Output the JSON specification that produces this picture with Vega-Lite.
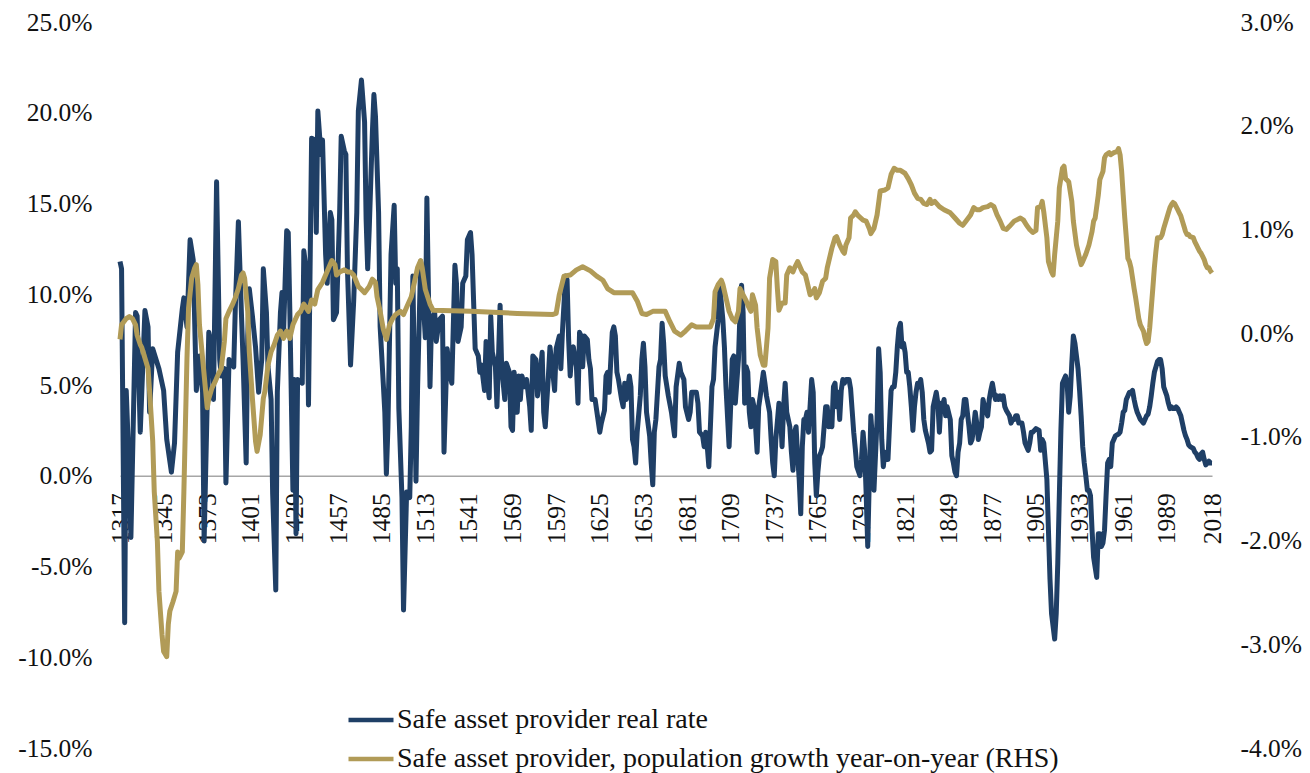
{
  "$schema": "https://vega.github.io/schema/vega-lite/v6.json",
  "autosize": "none",
  "width": 1092,
  "height": 726,
  "padding": {"left": 120, "top": 22, "right": 98, "bottom": 25},
  "background": "white",
  "config": {
    "view": {"stroke": null},
    "font": "Liberation Serif",
    "axis": {"labelFont": "Liberation Serif", "labelFontSize": 25.5, "labelColor": "#111111", "grid": false, "ticks": false, "domain": false, "title": null},
    "legend": {"labelFont": "Liberation Serif", "labelFontSize": 28, "labelColor": "#111111"}
  },
  "datasets": {
    "rate": [
      {"year":1317,"v":11.8},{"year":1318,"v":11.4},{"year":1320,"v":-8.1},{"year":1321,"v":4.7},{"year":1323,"v":0.0},{"year":1324,"v":-3.4},{"year":1327,"v":9.0},{"year":1328,"v":8.8},{"year":1330,"v":2.4},{"year":1333,"v":9.1},{"year":1335,"v":8.2},{"year":1336,"v":3.5},{"year":1338,"v":7.0},{"year":1342,"v":5.9},{"year":1345,"v":4.7},{"year":1347,"v":2.0},{"year":1350,"v":0.2},{"year":1352,"v":1.8},{"year":1354,"v":6.8},{"year":1357,"v":9.2},{"year":1358,"v":9.8},{"year":1360,"v":8.2},{"year":1362,"v":13.0},{"year":1364,"v":11.9},{"year":1366,"v":4.7},{"year":1368,"v":6.6},{"year":1370,"v":4.6},{"year":1371,"v":-3.6},{"year":1374,"v":7.9},{"year":1376,"v":7.1},{"year":1377,"v":4.2},{"year":1379,"v":16.2},{"year":1381,"v":6.4},{"year":1382,"v":5.5},{"year":1384,"v":5.9},{"year":1385,"v":-0.4},{"year":1387,"v":6.4},{"year":1390,"v":6.0},{"year":1391,"v":9.2},{"year":1393,"v":14.0},{"year":1395,"v":8.8},{"year":1396,"v":6.4},{"year":1398,"v":0.7},{"year":1399,"v":7.7},{"year":1400,"v":10.3},{"year":1402,"v":8.8},{"year":1404,"v":7.1},{"year":1406,"v":4.6},{"year":1408,"v":6.4},{"year":1409,"v":11.4},{"year":1411,"v":9.0},{"year":1412,"v":6.0},{"year":1414,"v":4.2},{"year":1415,"v":-1.0},{"year":1417,"v":-6.3},{"year":1418,"v":4.6},{"year":1420,"v":9.0},{"year":1421,"v":10.1},{"year":1422,"v":7.9},{"year":1424,"v":13.5},{"year":1425,"v":13.4},{"year":1426,"v":9.2},{"year":1428,"v":-0.8},{"year":1429,"v":5.3},{"year":1430,"v":-3.2},{"year":1431,"v":5.3},{"year":1434,"v":5.1},{"year":1435,"v":12.4},{"year":1437,"v":11.0},{"year":1438,"v":3.9},{"year":1440,"v":18.6},{"year":1442,"v":18.5},{"year":1443,"v":13.4},{"year":1444,"v":20.1},{"year":1446,"v":17.7},{"year":1447,"v":18.5},{"year":1449,"v":12.2},{"year":1450,"v":10.6},{"year":1452,"v":14.5},{"year":1453,"v":14.1},{"year":1454,"v":8.6},{"year":1456,"v":9.0},{"year":1458,"v":14.5},{"year":1459,"v":18.7},{"year":1461,"v":17.9},{"year":1462,"v":17.7},{"year":1463,"v":11.4},{"year":1465,"v":6.1},{"year":1467,"v":9.6},{"year":1469,"v":14.5},{"year":1470,"v":20.1},{"year":1472,"v":21.8},{"year":1474,"v":19.5},{"year":1475,"v":14.1},{"year":1476,"v":11.4},{"year":1477,"v":13.6},{"year":1479,"v":18.9},{"year":1480,"v":21.0},{"year":1481,"v":19.8},{"year":1483,"v":14.5},{"year":1484,"v":8.2},{"year":1486,"v":5.1},{"year":1487,"v":3.5},{"year":1488,"v":0.1},{"year":1489,"v":2.7},{"year":1491,"v":12.2},{"year":1493,"v":14.9},{"year":1494,"v":10.6},{"year":1495,"v":11.4},{"year":1496,"v":3.7},{"year":1498,"v":-1.2},{"year":1499,"v":-7.4},{"year":1501,"v":-0.9},{"year":1503,"v":-1.2},{"year":1504,"v":2.7},{"year":1505,"v":11.0},{"year":1507,"v":-0.3},{"year":1508,"v":4.7},{"year":1510,"v":11.8},{"year":1511,"v":10.6},{"year":1513,"v":7.6},{"year":1514,"v":15.3},{"year":1516,"v":4.9},{"year":1517,"v":8.6},{"year":1519,"v":9.0},{"year":1520,"v":7.4},{"year":1522,"v":8.6},{"year":1524,"v":8.8},{"year":1525,"v":1.3},{"year":1527,"v":7.0},{"year":1529,"v":5.5},{"year":1530,"v":5.1},{"year":1532,"v":11.6},{"year":1533,"v":10.6},{"year":1534,"v":7.4},{"year":1536,"v":8.2},{"year":1537,"v":10.6},{"year":1539,"v":11.0},{"year":1540,"v":13.0},{"year":1542,"v":13.4},{"year":1543,"v":12.2},{"year":1545,"v":7.0},{"year":1547,"v":6.6},{"year":1548,"v":5.7},{"year":1549,"v":6.1},{"year":1551,"v":4.7},{"year":1552,"v":7.4},{"year":1553,"v":5.1},{"year":1554,"v":4.3},{"year":1555,"v":8.8},{"year":1556,"v":6.8},{"year":1558,"v":6.0},{"year":1559,"v":3.8},{"year":1561,"v":9.4},{"year":1562,"v":6.0},{"year":1564,"v":4.2},{"year":1565,"v":6.2},{"year":1567,"v":5.7},{"year":1568,"v":2.7},{"year":1569,"v":2.5},{"year":1570,"v":5.7},{"year":1572,"v":3.5},{"year":1573,"v":5.5},{"year":1574,"v":4.2},{"year":1575,"v":5.5},{"year":1577,"v":4.9},{"year":1578,"v":5.3},{"year":1580,"v":3.8},{"year":1581,"v":2.5},{"year":1582,"v":6.6},{"year":1584,"v":6.4},{"year":1585,"v":4.4},{"year":1587,"v":5.9},{"year":1588,"v":6.8},{"year":1589,"v":3.5},{"year":1590,"v":2.7},{"year":1592,"v":5.5},{"year":1593,"v":7.1},{"year":1594,"v":6.4},{"year":1596,"v":4.7},{"year":1597,"v":7.0},{"year":1599,"v":7.7},{"year":1600,"v":5.9},{"year":1601,"v":7.9},{"year":1603,"v":11.0},{"year":1604,"v":10.8},{"year":1605,"v":7.5},{"year":1606,"v":5.5},{"year":1607,"v":6.8},{"year":1608,"v":7.1},{"year":1610,"v":6.0},{"year":1611,"v":4.0},{"year":1612,"v":7.9},{"year":1613,"v":7.7},{"year":1614,"v":6.0},{"year":1615,"v":7.7},{"year":1617,"v":7.5},{"year":1618,"v":6.4},{"year":1619,"v":5.9},{"year":1620,"v":4.2},{"year":1622,"v":4.2},{"year":1623,"v":3.6},{"year":1625,"v":2.4},{"year":1626,"v":2.9},{"year":1628,"v":3.6},{"year":1629,"v":5.5},{"year":1630,"v":5.7},{"year":1631,"v":4.6},{"year":1633,"v":7.9},{"year":1634,"v":8.2},{"year":1635,"v":7.7},{"year":1636,"v":5.7},{"year":1637,"v":5.3},{"year":1639,"v":4.2},{"year":1640,"v":3.8},{"year":1641,"v":5.1},{"year":1642,"v":4.2},{"year":1644,"v":5.5},{"year":1645,"v":4.9},{"year":1646,"v":2.0},{"year":1647,"v":1.6},{"year":1648,"v":0.7},{"year":1649,"v":2.4},{"year":1651,"v":4.4},{"year":1652,"v":6.4},{"year":1653,"v":7.3},{"year":1654,"v":6.0},{"year":1655,"v":3.5},{"year":1657,"v":2.2},{"year":1658,"v":0.7},{"year":1659,"v":-0.5},{"year":1660,"v":2.4},{"year":1661,"v":3.1},{"year":1663,"v":6.0},{"year":1664,"v":6.4},{"year":1665,"v":8.4},{"year":1666,"v":7.3},{"year":1667,"v":5.5},{"year":1669,"v":4.4},{"year":1671,"v":3.5},{"year":1673,"v":2.2},{"year":1674,"v":4.9},{"year":1676,"v":6.2},{"year":1677,"v":5.7},{"year":1679,"v":5.3},{"year":1680,"v":3.8},{"year":1682,"v":3.1},{"year":1683,"v":3.5},{"year":1684,"v":4.6},{"year":1685,"v":4.6},{"year":1687,"v":4.6},{"year":1688,"v":4.0},{"year":1689,"v":2.4},{"year":1691,"v":2.2},{"year":1692,"v":1.6},{"year":1693,"v":2.4},{"year":1694,"v":1.6},{"year":1695,"v":0.5},{"year":1697,"v":4.9},{"year":1698,"v":5.3},{"year":1699,"v":7.1},{"year":1701,"v":8.6},{"year":1702,"v":10.5},{"year":1704,"v":8.6},{"year":1705,"v":7.1},{"year":1706,"v":4.9},{"year":1708,"v":1.6},{"year":1709,"v":3.8},{"year":1710,"v":6.4},{"year":1711,"v":6.6},{"year":1712,"v":4.0},{"year":1714,"v":6.4},{"year":1715,"v":9.0},{"year":1716,"v":10.5},{"year":1717,"v":9.0},{"year":1718,"v":4.0},{"year":1719,"v":6.0},{"year":1720,"v":5.7},{"year":1721,"v":3.5},{"year":1722,"v":2.7},{"year":1723,"v":4.2},{"year":1724,"v":3.8},{"year":1725,"v":2.7},{"year":1726,"v":1.3},{"year":1727,"v":3.8},{"year":1728,"v":4.4},{"year":1730,"v":5.7},{"year":1731,"v":5.1},{"year":1732,"v":4.4},{"year":1734,"v":3.5},{"year":1735,"v":2.0},{"year":1736,"v":0.7},{"year":1737,"v":0.0},{"year":1738,"v":2.0},{"year":1740,"v":4.0},{"year":1741,"v":3.5},{"year":1742,"v":1.6},{"year":1743,"v":3.8},{"year":1744,"v":5.1},{"year":1745,"v":3.5},{"year":1747,"v":2.7},{"year":1748,"v":1.3},{"year":1749,"v":0.3},{"year":1750,"v":2.4},{"year":1751,"v":2.7},{"year":1752,"v":1.1},{"year":1753,"v":-0.2},{"year":1754,"v":-2.1},{"year":1755,"v":1.6},{"year":1756,"v":3.1},{"year":1757,"v":3.1},{"year":1758,"v":3.5},{"year":1759,"v":2.4},{"year":1761,"v":5.3},{"year":1762,"v":4.6},{"year":1763,"v":0.7},{"year":1764,"v":-1.1},{"year":1765,"v":0.2},{"year":1766,"v":1.1},{"year":1767,"v":1.3},{"year":1768,"v":1.6},{"year":1770,"v":3.8},{"year":1771,"v":3.8},{"year":1772,"v":2.7},{"year":1773,"v":3.1},{"year":1774,"v":2.7},{"year":1775,"v":4.9},{"year":1776,"v":5.1},{"year":1777,"v":3.8},{"year":1778,"v":4.6},{"year":1779,"v":3.1},{"year":1780,"v":4.7},{"year":1781,"v":5.3},{"year":1782,"v":5.1},{"year":1783,"v":5.3},{"year":1784,"v":5.3},{"year":1785,"v":5.3},{"year":1786,"v":4.8},{"year":1787,"v":3.6},{"year":1788,"v":2.4},{"year":1789,"v":1.5},{"year":1790,"v":0.5},{"year":1792,"v":0.0},{"year":1793,"v":0.9},{"year":1794,"v":2.4},{"year":1795,"v":1.4},{"year":1796,"v":-1.0},{"year":1797,"v":-3.9},{"year":1798,"v":-0.2},{"year":1799,"v":3.3},{"year":1800,"v":2.0},{"year":1801,"v":-0.8},{"year":1803,"v":3.1},{"year":1804,"v":7.0},{"year":1805,"v":5.7},{"year":1806,"v":2.0},{"year":1807,"v":0.5},{"year":1808,"v":1.3},{"year":1809,"v":0.9},{"year":1810,"v":0.9},{"year":1812,"v":4.7},{"year":1813,"v":4.9},{"year":1814,"v":4.9},{"year":1815,"v":5.7},{"year":1816,"v":7.1},{"year":1817,"v":8.1},{"year":1818,"v":8.4},{"year":1819,"v":7.1},{"year":1820,"v":7.3},{"year":1821,"v":6.8},{"year":1822,"v":5.7},{"year":1823,"v":5.7},{"year":1824,"v":4.9},{"year":1825,"v":3.8},{"year":1826,"v":2.5},{"year":1827,"v":3.8},{"year":1828,"v":4.6},{"year":1829,"v":5.1},{"year":1830,"v":4.9},{"year":1831,"v":5.3},{"year":1832,"v":4.6},{"year":1833,"v":3.1},{"year":1834,"v":2.5},{"year":1836,"v":1.8},{"year":1837,"v":1.3},{"year":1838,"v":1.4},{"year":1839,"v":3.8},{"year":1840,"v":4.2},{"year":1841,"v":4.6},{"year":1842,"v":4.0},{"year":1843,"v":2.4},{"year":1844,"v":4.0},{"year":1845,"v":3.8},{"year":1846,"v":4.2},{"year":1847,"v":3.3},{"year":1848,"v":3.8},{"year":1850,"v":3.1},{"year":1851,"v":1.1},{"year":1852,"v":0.7},{"year":1853,"v":0.2},{"year":1854,"v":0.0},{"year":1855,"v":1.3},{"year":1856,"v":1.8},{"year":1857,"v":3.1},{"year":1858,"v":3.3},{"year":1859,"v":4.2},{"year":1860,"v":4.2},{"year":1862,"v":2.7},{"year":1863,"v":1.8},{"year":1864,"v":2.0},{"year":1865,"v":2.7},{"year":1866,"v":3.5},{"year":1867,"v":2.9},{"year":1868,"v":2.0},{"year":1869,"v":2.4},{"year":1870,"v":2.7},{"year":1871,"v":4.2},{"year":1872,"v":3.8},{"year":1874,"v":3.3},{"year":1875,"v":4.2},{"year":1876,"v":4.7},{"year":1877,"v":5.1},{"year":1878,"v":4.6},{"year":1879,"v":4.2},{"year":1880,"v":4.4},{"year":1881,"v":4.2},{"year":1882,"v":4.4},{"year":1883,"v":4.2},{"year":1884,"v":4.4},{"year":1885,"v":3.8},{"year":1886,"v":3.6},{"year":1888,"v":3.3},{"year":1889,"v":2.9},{"year":1890,"v":3.1},{"year":1891,"v":3.1},{"year":1892,"v":3.3},{"year":1893,"v":3.3},{"year":1894,"v":2.9},{"year":1895,"v":2.9},{"year":1896,"v":2.9},{"year":1897,"v":2.4},{"year":1898,"v":1.8},{"year":1899,"v":1.6},{"year":1900,"v":1.4},{"year":1901,"v":1.8},{"year":1902,"v":2.4},{"year":1903,"v":2.4},{"year":1905,"v":2.6},{"year":1907,"v":2.5},{"year":1908,"v":1.4},{"year":1909,"v":2.0},{"year":1910,"v":1.8},{"year":1912,"v":-0.2},{"year":1913,"v":-3.0},{"year":1914,"v":-5.7},{"year":1915,"v":-7.6},{"year":1917,"v":-9.0},{"year":1918,"v":-7.6},{"year":1919,"v":-4.8},{"year":1920,"v":-1.1},{"year":1921,"v":2.5},{"year":1922,"v":5.1},{"year":1924,"v":5.5},{"year":1925,"v":5.1},{"year":1926,"v":3.5},{"year":1927,"v":4.4},{"year":1928,"v":6.2},{"year":1929,"v":7.7},{"year":1930,"v":7.3},{"year":1931,"v":6.6},{"year":1932,"v":5.9},{"year":1933,"v":4.7},{"year":1934,"v":3.3},{"year":1935,"v":1.6},{"year":1936,"v":0.7},{"year":1937,"v":0.0},{"year":1938,"v":-0.8},{"year":1939,"v":-0.8},{"year":1940,"v":-1.1},{"year":1941,"v":-3.0},{"year":1942,"v":-4.5},{"year":1944,"v":-5.6},{"year":1945,"v":-3.2},{"year":1946,"v":-3.2},{"year":1947,"v":-3.9},{"year":1948,"v":-3.7},{"year":1949,"v":-3.0},{"year":1950,"v":-1.1},{"year":1951,"v":0.7},{"year":1952,"v":0.9},{"year":1953,"v":0.5},{"year":1954,"v":1.8},{"year":1955,"v":2.0},{"year":1956,"v":2.2},{"year":1958,"v":2.3},{"year":1959,"v":2.4},{"year":1960,"v":2.9},{"year":1961,"v":3.5},{"year":1962,"v":3.6},{"year":1963,"v":4.2},{"year":1964,"v":4.4},{"year":1965,"v":4.6},{"year":1966,"v":4.6},{"year":1967,"v":4.7},{"year":1968,"v":4.2},{"year":1969,"v":3.8},{"year":1970,"v":3.5},{"year":1971,"v":3.3},{"year":1972,"v":3.1},{"year":1974,"v":2.9},{"year":1975,"v":3.1},{"year":1976,"v":3.3},{"year":1977,"v":3.4},{"year":1978,"v":3.8},{"year":1979,"v":4.4},{"year":1980,"v":5.1},{"year":1981,"v":5.7},{"year":1982,"v":6.0},{"year":1983,"v":6.3},{"year":1984,"v":6.4},{"year":1985,"v":6.4},{"year":1986,"v":5.9},{"year":1987,"v":4.9},{"year":1989,"v":4.4},{"year":1990,"v":4.0},{"year":1991,"v":3.7},{"year":1992,"v":3.8},{"year":1993,"v":3.7},{"year":1994,"v":3.7},{"year":1995,"v":3.8},{"year":1996,"v":3.7},{"year":1997,"v":3.5},{"year":1998,"v":3.3},{"year":1999,"v":2.9},{"year":2000,"v":2.5},{"year":2001,"v":2.2},{"year":2002,"v":2.0},{"year":2003,"v":1.7},{"year":2004,"v":1.6},{"year":2006,"v":1.5},{"year":2007,"v":1.3},{"year":2008,"v":1.2},{"year":2009,"v":1.0},{"year":2010,"v":0.9},{"year":2011,"v":1.2},{"year":2012,"v":1.3},{"year":2013,"v":0.9},{"year":2014,"v":0.6},{"year":2015,"v":0.7},{"year":2016,"v":0.8},{"year":2017,"v":0.7},{"year":2018,"v":0.7}
    ],
    "pop": [
      {"year":1317,"v":-0.06},{"year":1318,"v":0.08},{"year":1319,"v":0.10},{"year":1321,"v":0.14},{"year":1323,"v":0.16},{"year":1325,"v":0.14},{"year":1327,"v":0.08},{"year":1328,"v":-0.02},{"year":1330,"v":-0.11},{"year":1331,"v":-0.14},{"year":1333,"v":-0.24},{"year":1335,"v":-0.34},{"year":1336,"v":-0.56},{"year":1338,"v":-1.04},{"year":1339,"v":-1.53},{"year":1341,"v":-2.01},{"year":1342,"v":-2.49},{"year":1344,"v":-2.91},{"year":1345,"v":-3.07},{"year":1347,"v":-3.12},{"year":1348,"v":-2.81},{"year":1349,"v":-2.68},{"year":1351,"v":-2.59},{"year":1353,"v":-2.49},{"year":1354,"v":-2.11},{"year":1355,"v":-2.17},{"year":1357,"v":-2.11},{"year":1358,"v":-1.53},{"year":1359,"v":-0.88},{"year":1360,"v":-0.24},{"year":1361,"v":0.24},{"year":1363,"v":0.53},{"year":1365,"v":0.63},{"year":1366,"v":0.66},{"year":1367,"v":0.47},{"year":1368,"v":0.08},{"year":1370,"v":-0.24},{"year":1372,"v":-0.56},{"year":1373,"v":-0.72},{"year":1374,"v":-0.63},{"year":1376,"v":-0.53},{"year":1378,"v":-0.47},{"year":1380,"v":-0.40},{"year":1382,"v":-0.34},{"year":1384,"v":-0.08},{"year":1385,"v":0.14},{"year":1387,"v":0.21},{"year":1389,"v":0.27},{"year":1391,"v":0.34},{"year":1393,"v":0.43},{"year":1395,"v":0.56},{"year":1396,"v":0.58},{"year":1397,"v":0.53},{"year":1399,"v":0.21},{"year":1400,"v":-0.18},{"year":1402,"v":-0.63},{"year":1404,"v":-1.04},{"year":1405,"v":-1.14},{"year":1407,"v":-0.98},{"year":1409,"v":-0.63},{"year":1410,"v":-0.56},{"year":1412,"v":-0.31},{"year":1414,"v":-0.18},{"year":1416,"v":-0.11},{"year":1418,"v":-0.02},{"year":1420,"v":0.02},{"year":1422,"v":-0.05},{"year":1424,"v":0.02},{"year":1426,"v":-0.05},{"year":1428,"v":0.08},{"year":1431,"v":0.18},{"year":1433,"v":0.21},{"year":1435,"v":0.28},{"year":1438,"v":0.21},{"year":1440,"v":0.32},{"year":1442,"v":0.28},{"year":1444,"v":0.42},{"year":1447,"v":0.49},{"year":1449,"v":0.56},{"year":1451,"v":0.63},{"year":1453,"v":0.70},{"year":1455,"v":0.66},{"year":1456,"v":0.56},{"year":1458,"v":0.59},{"year":1461,"v":0.61},{"year":1463,"v":0.59},{"year":1465,"v":0.59},{"year":1467,"v":0.56},{"year":1470,"v":0.45},{"year":1472,"v":0.42},{"year":1474,"v":0.39},{"year":1477,"v":0.45},{"year":1479,"v":0.52},{"year":1481,"v":0.49},{"year":1482,"v":0.35},{"year":1484,"v":0.21},{"year":1486,"v":0.04},{"year":1488,"v":-0.06},{"year":1490,"v":0.08},{"year":1492,"v":0.14},{"year":1494,"v":0.18},{"year":1497,"v":0.21},{"year":1499,"v":0.18},{"year":1501,"v":0.25},{"year":1504,"v":0.35},{"year":1506,"v":0.49},{"year":1508,"v":0.63},{"year":1510,"v":0.70},{"year":1511,"v":0.63},{"year":1513,"v":0.42},{"year":1516,"v":0.28},{"year":1518,"v":0.22},{"year":1542,"v":0.21},{"year":1572,"v":0.19},{"year":1595,"v":0.18},{"year":1597,"v":0.19},{"year":1599,"v":0.37},{"year":1602,"v":0.55},{"year":1606,"v":0.56},{"year":1610,"v":0.61},{"year":1614,"v":0.64},{"year":1619,"v":0.60},{"year":1623,"v":0.55},{"year":1627,"v":0.51},{"year":1630,"v":0.43},{"year":1634,"v":0.39},{"year":1646,"v":0.39},{"year":1649,"v":0.31},{"year":1652,"v":0.19},{"year":1655,"v":0.18},{"year":1659,"v":0.21},{"year":1667,"v":0.21},{"year":1670,"v":0.11},{"year":1673,"v":0.02},{"year":1677,"v":-0.02},{"year":1680,"v":0.02},{"year":1684,"v":0.08},{"year":1687,"v":0.06},{"year":1696,"v":0.06},{"year":1698,"v":0.14},{"year":1699,"v":0.40},{"year":1701,"v":0.47},{"year":1703,"v":0.51},{"year":1704,"v":0.47},{"year":1706,"v":0.34},{"year":1708,"v":0.21},{"year":1710,"v":0.14},{"year":1712,"v":0.11},{"year":1714,"v":0.21},{"year":1715,"v":0.43},{"year":1717,"v":0.37},{"year":1719,"v":0.31},{"year":1720,"v":0.27},{"year":1722,"v":0.21},{"year":1723,"v":0.37},{"year":1725,"v":0.27},{"year":1726,"v":0.05},{"year":1728,"v":-0.21},{"year":1730,"v":-0.31},{"year":1731,"v":-0.31},{"year":1733,"v":0.05},{"year":1734,"v":0.53},{"year":1736,"v":0.71},{"year":1738,"v":0.69},{"year":1739,"v":0.43},{"year":1740,"v":0.22},{"year":1742,"v":0.29},{"year":1744,"v":0.29},{"year":1745,"v":0.56},{"year":1747,"v":0.63},{"year":1749,"v":0.59},{"year":1750,"v":0.63},{"year":1752,"v":0.69},{"year":1755,"v":0.59},{"year":1757,"v":0.56},{"year":1758,"v":0.50},{"year":1760,"v":0.37},{"year":1762,"v":0.40},{"year":1763,"v":0.43},{"year":1764,"v":0.34},{"year":1766,"v":0.39},{"year":1768,"v":0.50},{"year":1770,"v":0.53},{"year":1771,"v":0.63},{"year":1774,"v":0.82},{"year":1776,"v":0.92},{"year":1777,"v":0.93},{"year":1779,"v":0.85},{"year":1781,"v":0.79},{"year":1782,"v":0.77},{"year":1783,"v":0.85},{"year":1785,"v":0.92},{"year":1786,"v":1.11},{"year":1788,"v":1.14},{"year":1789,"v":1.17},{"year":1791,"v":1.13},{"year":1794,"v":1.09},{"year":1796,"v":1.08},{"year":1798,"v":1.01},{"year":1799,"v":0.96},{"year":1801,"v":1.01},{"year":1803,"v":1.14},{"year":1805,"v":1.37},{"year":1808,"v":1.38},{"year":1810,"v":1.40},{"year":1812,"v":1.53},{"year":1814,"v":1.59},{"year":1816,"v":1.57},{"year":1818,"v":1.57},{"year":1821,"v":1.54},{"year":1823,"v":1.49},{"year":1825,"v":1.43},{"year":1827,"v":1.35},{"year":1829,"v":1.30},{"year":1831,"v":1.29},{"year":1833,"v":1.25},{"year":1835,"v":1.24},{"year":1837,"v":1.29},{"year":1838,"v":1.25},{"year":1840,"v":1.27},{"year":1843,"v":1.22},{"year":1846,"v":1.19},{"year":1850,"v":1.16},{"year":1853,"v":1.11},{"year":1856,"v":1.06},{"year":1858,"v":1.04},{"year":1860,"v":1.08},{"year":1863,"v":1.14},{"year":1865,"v":1.21},{"year":1867,"v":1.19},{"year":1869,"v":1.19},{"year":1871,"v":1.21},{"year":1874,"v":1.22},{"year":1876,"v":1.24},{"year":1878,"v":1.22},{"year":1880,"v":1.14},{"year":1882,"v":1.08},{"year":1884,"v":1.01},{"year":1886,"v":1.00},{"year":1888,"v":1.03},{"year":1891,"v":1.08},{"year":1895,"v":1.11},{"year":1897,"v":1.09},{"year":1899,"v":1.04},{"year":1901,"v":1.00},{"year":1903,"v":0.97},{"year":1905,"v":0.99},{"year":1906,"v":1.21},{"year":1908,"v":1.22},{"year":1909,"v":1.27},{"year":1910,"v":1.17},{"year":1912,"v":0.92},{"year":1913,"v":0.69},{"year":1915,"v":0.59},{"year":1916,"v":0.56},{"year":1917,"v":0.76},{"year":1919,"v":1.08},{"year":1920,"v":1.40},{"year":1922,"v":1.59},{"year":1923,"v":1.61},{"year":1924,"v":1.49},{"year":1926,"v":1.46},{"year":1928,"v":1.27},{"year":1929,"v":1.08},{"year":1931,"v":0.85},{"year":1933,"v":0.72},{"year":1934,"v":0.66},{"year":1935,"v":0.69},{"year":1937,"v":0.76},{"year":1939,"v":0.85},{"year":1941,"v":0.98},{"year":1942,"v":1.08},{"year":1943,"v":1.11},{"year":1945,"v":1.33},{"year":1946,"v":1.48},{"year":1948,"v":1.56},{"year":1949,"v":1.69},{"year":1950,"v":1.72},{"year":1952,"v":1.74},{"year":1953,"v":1.72},{"year":1955,"v":1.74},{"year":1957,"v":1.75},{"year":1958,"v":1.78},{"year":1959,"v":1.72},{"year":1960,"v":1.56},{"year":1961,"v":1.33},{"year":1962,"v":1.11},{"year":1963,"v":0.92},{"year":1964,"v":0.72},{"year":1965,"v":0.69},{"year":1966,"v":0.63},{"year":1967,"v":0.53},{"year":1968,"v":0.43},{"year":1969,"v":0.34},{"year":1970,"v":0.24},{"year":1971,"v":0.14},{"year":1972,"v":0.08},{"year":1974,"v":0.02},{"year":1975,"v":-0.05},{"year":1976,"v":-0.10},{"year":1977,"v":-0.08},{"year":1978,"v":0.05},{"year":1979,"v":0.24},{"year":1980,"v":0.43},{"year":1981,"v":0.63},{"year":1982,"v":0.79},{"year":1983,"v":0.92},{"year":1985,"v":0.92},{"year":1986,"v":0.95},{"year":1987,"v":1.01},{"year":1989,"v":1.11},{"year":1990,"v":1.16},{"year":1991,"v":1.21},{"year":1992,"v":1.24},{"year":1993,"v":1.26},{"year":1994,"v":1.25},{"year":1995,"v":1.22},{"year":1996,"v":1.19},{"year":1997,"v":1.16},{"year":1998,"v":1.13},{"year":1999,"v":1.08},{"year":2000,"v":1.03},{"year":2001,"v":0.98},{"year":2002,"v":0.95},{"year":2003,"v":0.95},{"year":2004,"v":0.93},{"year":2006,"v":0.92},{"year":2007,"v":0.88},{"year":2008,"v":0.85},{"year":2009,"v":0.82},{"year":2010,"v":0.79},{"year":2011,"v":0.77},{"year":2012,"v":0.74},{"year":2013,"v":0.71},{"year":2014,"v":0.66},{"year":2015,"v":0.63},{"year":2016,"v":0.63},{"year":2017,"v":0.60},{"year":2018,"v":0.58}
    ]
  },
  "encoding": {
    "x": {
      "field": "year",
      "type": "quantitative",
      "scale": {"domain": [1317, 2018], "nice": false, "zero": false},
      "axis": {
        "values": [1317,1345,1373,1401,1429,1457,1485,1513,1541,1569,1597,1625,1653,1681,1709,1737,1765,1793,1821,1849,1877,1905,1933,1961,1989,2018],
        "format": "d",
        "labelAngle": 270,
        "labelPadding": 17,
        "labelOverlap": false,
        "labelFlush": false,
        "domain": true,
        "domainColor": "#a6a6a6",
        "domainWidth": 1.5,
        "offset": -272.25
      }
    }
  },
  "layer": [
    {
      "data": {"name": "rate"},
      "mark": {"type": "line", "strokeWidth": 5, "strokeJoin": "round"},
      "encoding": {
        "y": {
          "field": "v",
          "type": "quantitative",
          "scale": {"domain": [-15, 25], "nice": false},
          "axis": {
            "orient": "left",
            "values": [-15,-10,-5,0,5,10,15,20,25],
            "labelPadding": 28,
            "labelExpr": "(datum.value < 0 ? '-' : '') + format(abs(datum.value), '.1f') + '%'"
          }
        },
        "color": {
          "datum": "Safe asset provider real rate",
          "scale": {
            "domain": ["Safe asset provider real rate", "Safe asset provider, population growth year-on-year (RHS)"],
            "range": ["#1f3f66", "#b19b57"]
          },
          "legend": {
            "title": null,
            "orient": "none",
            "legendX": 226,
            "legendY": 673,
            "direction": "vertical",
            "symbolType": "stroke",
            "symbolSize": 2025,
            "symbolStrokeWidth": 4.5,
            "labelOffset": 1,
            "rowPadding": -8,
            "padding": 0,
            "labelLimit": 0
          }
        }
      }
    },
    {
      "data": {"name": "pop"},
      "mark": {"type": "line", "strokeWidth": 5, "strokeJoin": "round"},
      "encoding": {
        "y": {
          "field": "v",
          "type": "quantitative",
          "scale": {"domain": [-4, 3], "nice": false},
          "axis": {
            "orient": "right",
            "values": [-4,-3,-2,-1,0,1,2,3],
            "labelPadding": 28,
            "labelExpr": "(datum.value < 0 ? '-' : '') + format(abs(datum.value), '.1f') + '%'"
          }
        },
        "color": {"datum": "Safe asset provider, population growth year-on-year (RHS)"}
      }
    }
  ],
  "resolve": {"scale": {"y": "independent"}}
}
